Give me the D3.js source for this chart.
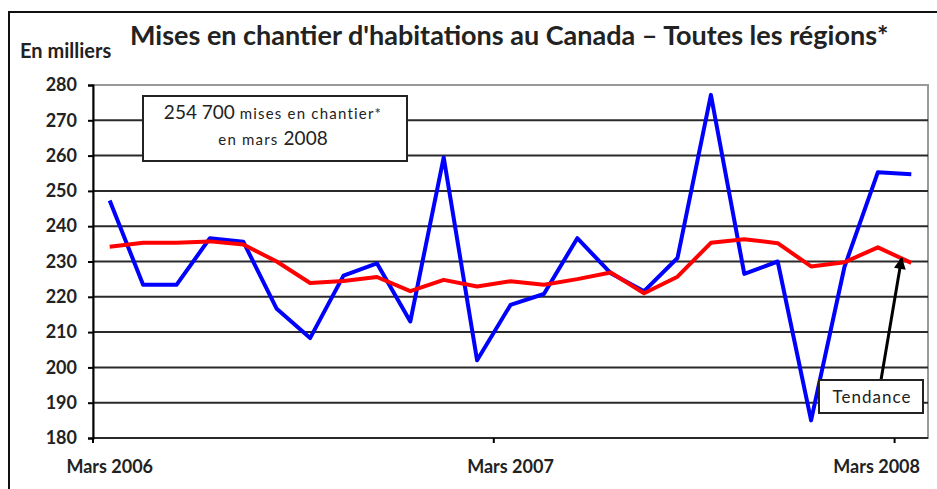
<!DOCTYPE html>
<meta charset="utf-8">
<script src="https://d3js.org/d3.v7.min.js"></script>
<style>
  body { margin: 0; background: #fff; }
  svg text { font-family: "Lato", "Open Sans", sans-serif; fill: #222; }
</style>
<div id="my_dataviz"></div>
<script>

  // months, Mar 2006 .. Mar 2008
  var months = ["Mars 2006", "Avr 2006", "Mai 2006", "Juin 2006", "Juil 2006", "Août 2006", "Sept 2006",
    "Oct 2006", "Nov 2006", "Déc 2006", "Janv 2007", "Févr 2007", "Mars 2007", "Avr 2007", "Mai 2007",
    "Juin 2007", "Juil 2007", "Août 2007", "Sept 2007", "Oct 2007", "Nov 2007", "Déc 2007", "Janv 2008",
    "Févr 2008", "Mars 2008"];

  // monthly starts (thousands, SAAR)
  var starts = [247.3, 223.4, 223.4, 236.6, 235.6, 216.6, 208.3, 226.0, 229.5, 213.0, 259.5, 202.0, 217.7,
    220.8, 236.6, 226.7, 221.6, 231.0, 277.2, 226.5, 230.0, 185.0, 228.5, 255.3, 254.7];

  // trend
  var trend = [234.2, 235.3, 235.3, 235.7, 234.8, 230.0, 223.9, 224.5, 225.6, 221.6, 224.8, 222.9, 224.4,
    223.4, 225.0, 226.9, 221.0, 225.7, 235.3, 236.3, 235.2, 228.6, 229.8, 234.0, 229.6];

  var yTicks = [180, 190, 200, 210, 220, 230, 240, 250, 260, 270, 280];
  var xLabels = ["Mars 2006", "Mars 2007", "Mars 2008"];

  var W = 937, H = 489;
  var margin = { top: 85, right: 9, bottom: 51, left: 93 },
    width = W - margin.left - margin.right,
    height = H - margin.top - margin.bottom;

  var svg = d3.select("#my_dataviz")
    .append("svg")
    .attr("width", W)
    .attr("height", H);

  // outer frame
  svg.append("rect")
    .attr("x", 9).attr("y", 12)
    .attr("width", 960).attr("height", 520)
    .attr("fill", "none")
    .attr("stroke", "#111")
    .attr("stroke-width", 2);

  svg.append("text")
    .attr("x", 130).attr("y", 45)
    .style("font-size", "27px")
    .style("font-weight", "bold")
    .text("Mises en chantier d'habitations au Canada – Toutes les régions*");

  svg.append("text")
    .attr("x", 20).attr("y", 58)
    .style("font-size", "20px")
    .style("font-weight", "bold")
    .text("En milliers");

  var g = svg.append("g")
    .attr("transform", "translate(" + margin.left + "," + margin.top + ")");

  var x = d3.scaleBand()
    .domain(months)
    .range([0, width]);

  var y = d3.scaleLinear()
    .domain([180, 280])
    .range([height, 0]);

  // plot border (grey)
  g.append("rect")
    .attr("width", width).attr("height", height)
    .attr("fill", "none")
    .attr("stroke", "#999")
    .attr("stroke-width", 2);

  // gridlines
  g.append("g")
    .selectAll("line")
    .data(yTicks.filter(function (d) { return d < 280; }))
    .enter()
    .append("line")
    .attr("x1", 0).attr("x2", width)
    .attr("y1", function (d) { return y(d); })
    .attr("y2", function (d) { return y(d); })
    .attr("stroke", "#2a2a2a")
    .attr("stroke-width", 2);

  // y axis
  var yAxis = g.append("g")
    .call(d3.axisLeft(y).tickValues(yTicks).tickSize(5).tickPadding(11));
  yAxis.select(".domain").attr("stroke", "#000").attr("stroke-width", 2);
  yAxis.selectAll(".tick line").attr("stroke", "#000").attr("stroke-width", 2);
  yAxis.selectAll("text")
    .style("font-size", "18px")
    .style("font-weight", "bold")
    .style("font-family", "Lato")
    .attr("fill", "#222");

  // x ticks at band boundaries, labels centred on the band
  var xg = g.append("g").attr("transform", "translate(0," + height + ")");
  xg.selectAll("line")
    .data(xLabels)
    .enter()
    .append("line")
    .attr("x1", function (d) { return x(d); })
    .attr("x2", function (d) { return x(d); })
    .attr("y1", 0).attr("y2", 5)
    .attr("stroke", "#000")
    .attr("stroke-width", 2);
  xg.selectAll("text")
    .data(xLabels)
    .enter()
    .append("text")
    .attr("x", function (d, i) { return i < xLabels.length - 1 ? x(d) + x.bandwidth() / 2 : width - 8; })
    .attr("y", 35)
    .attr("text-anchor", function (d, i) { return i < xLabels.length - 1 ? "middle" : "end"; })
    .style("font-size", "18px")
    .style("font-weight", "bold")
    .text(function (d) { return d; });

  var line = d3.line()
    .x(function (d, i) { return x(months[i]) + x.bandwidth() / 2; })
    .y(function (d) { return y(d); });

  g.append("path")
    .datum(starts)
    .attr("d", line)
    .attr("fill", "none")
    .attr("stroke", "#0000ff")
    .attr("stroke-width", 4)
    .attr("stroke-linejoin", "round");

  g.append("path")
    .datum(trend)
    .attr("d", line)
    .attr("fill", "none")
    .attr("stroke", "#ff0000")
    .attr("stroke-width", 4)
    .attr("stroke-linejoin", "round");

  // annotation box
  svg.append("rect")
    .attr("x", 143).attr("y", 96)
    .attr("width", 264).attr("height", 65)
    .attr("fill", "#fff")
    .attr("stroke", "#222")
    .attr("stroke-width", 2);
  var t1 = svg.append("text")
    .attr("x", 273).attr("y", 119)
    .attr("text-anchor", "middle");
  t1.append("tspan").style("font-size", "19px").text("254 700 ");
  t1.append("tspan").style("font-size", "15px").style("letter-spacing", "1.2px").text("mises en chantier*");
  var t2 = svg.append("text")
    .attr("x", 273).attr("y", 145)
    .attr("text-anchor", "middle");
  t2.append("tspan").style("font-size", "15px").style("letter-spacing", "1.2px").text("en mars ");
  t2.append("tspan").style("font-size", "19px").text("2008");

  // Tendance callout, pointing at the trend line just right of the Mar 2008 tick
  var n = months.length - 1;
  var tipX = margin.left + x(months[n]) + 7,
    tipY = margin.top + y((trend[n - 1] + trend[n]) / 2) + 3;
  svg.append("defs").append("marker")
    .attr("id", "arrow")
    .attr("viewBox", "0 0 10 10")
    .attr("refX", 9).attr("refY", 5)
    .attr("markerWidth", 4.5).attr("markerHeight", 4)
    .attr("orient", "auto")
    .append("path")
    .attr("d", "M0,0 L10,5 L0,10 z")
    .attr("fill", "#000");
  svg.append("line")
    .attr("x1", 881).attr("y1", 380)
    .attr("x2", tipX).attr("y2", tipY)
    .attr("stroke", "#000")
    .attr("stroke-width", 3)
    .attr("marker-end", "url(#arrow)");
  svg.append("rect")
    .attr("x", 819).attr("y", 380)
    .attr("width", 104).attr("height", 33)
    .attr("fill", "#fff")
    .attr("stroke", "#222")
    .attr("stroke-width", 2);
  svg.append("text")
    .attr("x", 872).attr("y", 403)
    .attr("text-anchor", "middle")
    .style("font-size", "17px")
    .style("letter-spacing", "1px")
    .text("Tendance");

</script>
